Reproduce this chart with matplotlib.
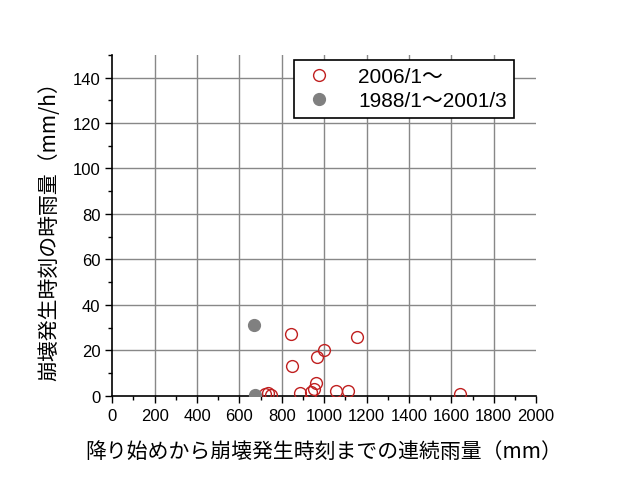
import matplotlib.pyplot as plt
from matplotlib.ticker import MultipleLocator

plt.rcParams['font.family'] = ['Liberation Sans', 'Noto Sans CJK JP']

# 2006/1～ (open red circles)
new_rain = [722, 748, 737, 844, 847, 887, 939, 950, 962, 968, 997, 1057, 1112, 1157, 1642]
new_peak = [1.0, 0.5, 1.2, 27, 13, 1.2, 1.6, 2.8, 5.5, 17, 20, 2.0, 2.0, 26, 0.9]

# 1988/1～2001/3 (filled gray circles)
old_rain = [670, 675]
old_peak = [31, 0.5]

xticks = list(range(0, 2001, 200))
yticks = list(range(0, 141, 20))

fig = plt.figure(figsize=(6.27, 4.81), dpi=100)
ax = fig.add_axes([0.179, 0.175, 0.676, 0.709])

ax.plot(new_rain, new_peak, linestyle='none', marker='o', markersize=8.5,
        markerfacecolor='none', markeredgecolor='#c02020', markeredgewidth=1.0,
        label='2006/1～', zorder=3)
ax.plot(old_rain, old_peak, linestyle='none', marker='o', markersize=8.5,
        color='#808080', label='1988/1～2001/3', zorder=3)

ax.set_xlim(0, 2000)
ax.set_ylim(0, 150)
ax.set_xticks(xticks)
ax.set_yticks(yticks)
ax.xaxis.set_minor_locator(MultipleLocator(100))
ax.yaxis.set_minor_locator(MultipleLocator(10))
ax.tick_params(which='both', direction='out', width=1, colors='black')
ax.tick_params(which='major', length=5, labelsize=12)
ax.tick_params(which='minor', length=3)
ax.tick_params(axis='x', pad=4)

ax.grid(True, which='major', color='#888888', linewidth=1.0)
ax.set_axisbelow(True)
ax.get_xgridlines()[-1].set_visible(False)
ax.get_xgridlines()[0].set_visible(False)
ax.get_ygridlines()[0].set_visible(False)

ax.spines['top'].set_visible(False)
ax.spines['right'].set_visible(False)
for s in ('left', 'bottom'):
    ax.spines[s].set_linewidth(1.2)

ax.set_xlabel('降り始めから崩壊発生時刻までの連続雨量（mm）', fontsize=15,
              family=['Noto Sans CJK JP'], labelpad=12)
ax.set_ylabel('崩壊発生時刻の時雨量（mm/h）', fontsize=15,
              family=['Noto Sans CJK JP'], labelpad=9)

leg = ax.legend(loc='upper left', bbox_to_anchor=(0.43, 0.985), fontsize=15,
                frameon=True, fancybox=False, edgecolor='black',
                borderpad=0.35, handletextpad=1.0, labelspacing=0.25,
                handlelength=1.7, borderaxespad=0)
leg.get_frame().set_linewidth(1.2)
leg.get_frame().set_alpha(1)

fig.savefig('out.png', dpi=100)
